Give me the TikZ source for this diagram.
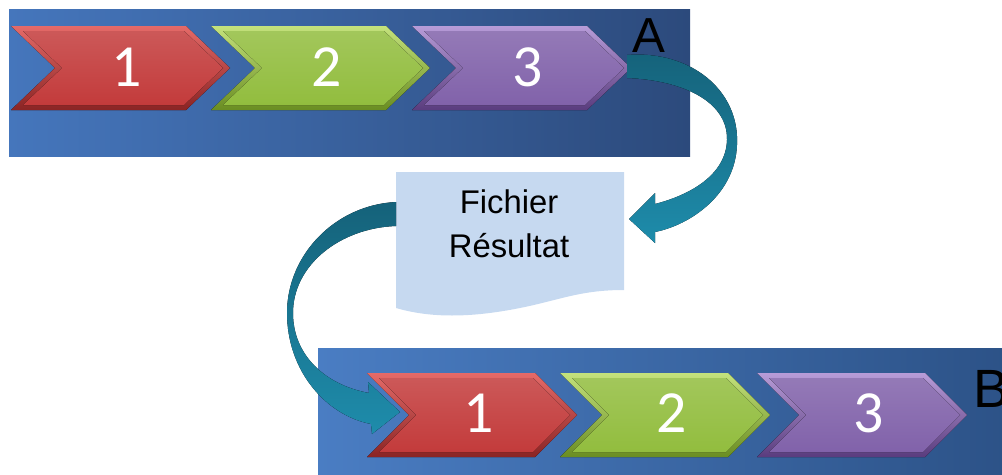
\documentclass[tikz,border=0pt]{standalone}
\usepackage{fontspec}
\setmainfont{Liberation Sans}
\newfontfamily\calfont{Carlito}
\definecolor{panAL}{HTML}{4576BC}
\definecolor{panAR}{HTML}{2C4A7C}
\definecolor{panBL}{HTML}{4A7DC3}
\definecolor{panBR}{HTML}{2C5287}
\definecolor{redL}{HTML}{E56A68}
\definecolor{redM}{HTML}{C33B3B}
\definecolor{redD}{HTML}{8A2424}
\definecolor{grnL}{HTML}{C4E27C}
\definecolor{grnM}{HTML}{92BD3E}
\definecolor{grnD}{HTML}{6A8D22}
\definecolor{vioL}{HTML}{B79CD8}
\definecolor{vioM}{HTML}{8162AA}
\definecolor{vioD}{HTML}{5A3C7E}
\definecolor{docfill}{HTML}{C6D9F0}
\definecolor{tealD}{HTML}{15627A}
\definecolor{tealL}{HTML}{1E8CAB}

\begin{document}
\begin{tikzpicture}[x=0.03cm,y=-0.03cm,
  num/.style={text=white,font=\calfont\fontsize{51}{51}\selectfont,inner sep=0pt},
  tag/.style={font=\fontsize{42}{42}\selectfont,inner sep=0pt,anchor=base west},
  band/.style={top color=tealD,bottom color=tealL}]
\clip (0,0) rectangle (1002,475);
\fill[left color=panAL,right color=panAR] (9,9) rectangle (690,156);
\foreach \n/\x/\col in {1/11/red,2/211/grn,3/412/vio}{
  \fill[top color=\col L,bottom color=\col D] (\x,26) -- (\x+175,26) -- (\x+219,68)
    -- (\x+175,110) -- (\x,110) -- (\x+44,68) -- cycle;
  \fill[top color=\col M!85!white,bottom color=\col M] (\x+12,31) -- (\x+173,31)
    -- (\x+212,68) -- (\x+173,105) -- (\x+12,105) -- (\x+51,68) -- cycle;
  \node[num] (a\n) at (\x+116,67) {\n};
}
\node[tag] (tagA) at (632,52) {A};
\fill[left color=panBL,right color=panBR] (318,348) rectangle (1010,480);
\foreach \n/\x/\col in {1/367/red,2/560/grn,3/757/vio}{
  \fill[top color=\col L,bottom color=\col D] (\x,373) -- (\x+168,373) -- (\x+210,415)
    -- (\x+168,457) -- (\x,457) -- (\x+42,415) -- cycle;
  \fill[top color=\col M!85!white,bottom color=\col M] (\x+12,378) -- (\x+166,378)
    -- (\x+203,415) -- (\x+166,452) -- (\x+12,452) -- (\x+49,415) -- cycle;
  \node[num] (b\n) at (\x+112,413) {\n};
}
\node[tag,font=\fontsize{46}{46}\selectfont] (tagB) at (973,407) {B};
\fill[docfill] (396,172) -- (624,172) -- (624,290) .. controls (580,290) and (560,300) .. (520,308)
  .. controls (470,318) and (430,318) .. (396,308) -- cycle;
\node[align=center,font=\fontsize{28}{38}\selectfont] (doc) at (509,224) {Fichier\\Résultat};
\fill[band] (627,55) .. controls (690,50) and (740,90) .. (737,145)
  .. controls (735,195) and (690,225) .. (655,232) -- (655,243) -- (629,219) -- (655,193)
  -- (655,204) .. controls (690,195) and (726,175) .. (727,140)
  .. controls (728,100) and (680,80) .. (627,78) -- cycle;
\fill[band] (396,202) .. controls (335,205) and (287,255) .. (287,313)
  .. controls (287,370) and (325,415) .. (371,424) -- (372,434) -- (400,412) -- (368,382)
  -- (369,393) .. controls (325,385) and (293,355) .. (293,313)
  .. controls (293,265) and (340,228) .. (396,226) -- cycle;
\end{tikzpicture}
\end{document}
